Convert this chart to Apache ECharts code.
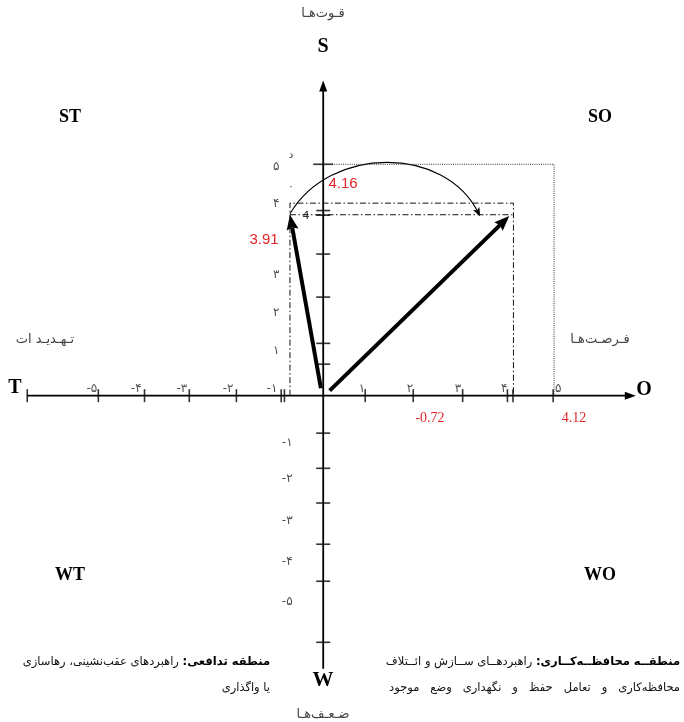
<!DOCTYPE html>
<html><head><meta charset="utf-8">
<script src="https://cdn.jsdelivr.net/npm/echarts@6/dist/echarts.min.js"></script>
<style>html,body{margin:0;padding:0;background:#fff}#c{width:684px;height:722px}</style>
</head><body><div id="c"></div>
<script>
// ---------- data (data units) ----------
const xTicks = [-6.41, -4.87, -3.87, -2.90, -1.88, -0.91, -0.84, 0.91, 1.95, 3.02, 3.99, 4.11, 4.98];
const xTickLabels = ['-۵', '-۴', '-۳', '-۲', '-۱', '۱', '۲', '۳', '۴', '۵'];
const xTickLabelAt = [-5.01, -4.05, -3.06, -2.06, -1.11, 0.84, 1.88, 2.92, 3.92, 5.09];
const yTicks = [0.68, 1.13, 2.13, 3.06, 3.90, 4.00, 5.00, -0.81, -1.57, -2.32, -3.21, -4.01, -5.33];
const yTickLabels = ['۱', '۲', '۳', '۴', '۵', '-۱', '-۲', '-۳', '-۴', '-۵'];
const yTickLabelAt = [0.96, 1.78, 2.60, 4.14, 4.94, -1.03, -1.80, -2.71, -3.59, -4.46];
const axisEnds = { xFrom: -6.41, xTo: 6.77, yFrom: -5.9, yTo: 6.81 };
const scoreX = [-0.72, 4.12];          // weighted scores on the horizontal axis
const scoreY = [3.91, 4.16];           // weighted scores on the vertical axis
const outerCorner = [5, 5];
const vectorTails = [[-0.05, 0.16], [0.14, 0.11]];
const vectorTips = [[-0.72, 3.91], [4.03, 3.88]];
const swingArc = [[-0.72, 3.93], [0.15, 5.41], [2.64, 5.41], [3.40, 3.87]];
const scoreLabels = ['4.16', '3.91', '-0.72', '4.12'];
const quadrants = ['ST', 'SO', 'WT', 'WO'];
const poles = ['S', 'T', 'O', 'W'];

// ---------- layout ----------
const UX = 46.2, UY = 46.3, OX = 323, OY = 395.5;
const X_MIN = -7, X_MAX = 7.8, Y_MIN = -7.05, Y_MAX = 8.55;
const FA = '"DejaVu Sans", sans-serif';
const SERIF = '"Liberation Serif", "Times New Roman", serif';
const RED = '#e3262b';

function arrowRenderer(lw, head, width, notch) {
  return function (params, api) {
    const p1 = api.coord([api.value(0), api.value(1)]);
    const p2 = api.coord([api.value(2), api.value(3)]);
    const dx = p2[0] - p1[0], dy = p2[1] - p1[1], L = Math.hypot(dx, dy);
    const ux = dx / L, uy = dy / L, nx = -uy, ny = ux, w = width / 2;
    const bx = p2[0] - ux * head, by = p2[1] - uy * head;
    return { type: 'group', children: [
      { type: 'line', shape: { x1: p1[0], y1: p1[1], x2: bx + ux * 2, y2: by + uy * 2 },
        style: { stroke: '#000', lineWidth: lw } },
      { type: 'polygon', shape: { points: [[p2[0], p2[1]], [bx + nx * w, by + ny * w],
          [bx + ux * notch, by + uy * notch], [bx - nx * w, by - ny * w]] },
        style: { fill: '#000' } }
    ] };
  };
}

function arcRenderer(params, api) {
  const P = swingArc.map(p => api.coord(p));
  const e = P[3], c = P[2];
  const dx = e[0] - c[0], dy = e[1] - c[1], L = Math.hypot(dx, dy);
  const ux = dx / L, uy = dy / L, nx = -uy, ny = ux;
  const head = 9, w = 3.5;
  const bx = e[0] - ux * head, by = e[1] - uy * head;
  return { type: 'group', children: [
    { type: 'bezierCurve', shape: { x1: P[0][0], y1: P[0][1], cpx1: P[1][0], cpy1: P[1][1],
        cpx2: P[2][0], cpy2: P[2][1], x2: e[0] - ux * 4, y2: e[1] - uy * 4 },
      style: { stroke: '#000', lineWidth: 1.1, fill: null } },
    { type: 'polygon', shape: { points: [[e[0], e[1]], [bx + nx * w, by + ny * w], [bx + ux * 2, by + uy * 2], [bx - nx * w, by - ny * w]] },
      style: { fill: '#000' } }
  ] };
}

function txt(x, y, text, font, color, align) {
  return { type: 'text', x: x, y: y, silent: true,
    style: { text: text, font: font, fill: color || '#000', align: align || 'center', textAlign: align || 'center',
      verticalAlign: 'middle', textVerticalAlign: 'middle' } };
}
function rtxt(x, y, text, rich) {
  return { type: 'text', x: x, y: y, silent: true,
    style: { text: text, rich: rich, align: 'right', textAlign: 'right', verticalAlign: 'middle', textVerticalAlign: 'middle' } };
}

const richBottom = {
  r: { fontFamily: FA, fontSize: 11.5, fill: '#111', color: '#111' },
  b: { fontFamily: FA, fontSize: 11.5, fontWeight: 'bold', fill: '#000', color: '#000' }
};

const chart = echarts.init(document.getElementById('c'), null, { renderer: 'canvas' });
const option = {
  animation: false,
  backgroundColor: '#fff',
  grid: { left: OX + X_MIN * UX, top: OY - Y_MAX * UY, width: (X_MAX - X_MIN) * UX, height: (Y_MAX - Y_MIN) * UY, containLabel: false },
  xAxis: { type: 'value', min: X_MIN, max: X_MAX, show: false },
  yAxis: { type: 'value', min: Y_MIN, max: Y_MAX, show: false },
  series: [
    // outer dotted box up to (5,5)
    { type: 'line', silent: true, showSymbol: false, symbol: 'none',
      data: [[0, outerCorner[1]], [outerCorner[0], outerCorner[1]], [outerCorner[0], 0]],
      lineStyle: { color: '#333', width: 1, type: [1, 1.2] } },
    // dash-dot box at the scores
    { type: 'line', silent: true, showSymbol: false, symbol: 'none',
      data: [[scoreX[0], 0], [scoreX[0], scoreY[1]], [scoreX[1], scoreY[1]], [scoreX[1], 0]],
      lineStyle: { color: '#111', width: 1, type: [6, 2.5, 1.5, 2.5] } },
    { type: 'line', silent: true, showSymbol: false, symbol: 'none',
      data: [[scoreX[0], scoreY[0]], [scoreX[1], scoreY[0]]],
      lineStyle: { color: '#111', width: 1, type: [6, 2.5, 1.5, 2.5] } },
    // axes with arrow heads
    { type: 'custom', silent: true, renderItem: arrowRenderer(1.8, 11, 8, 0),
      encode: { x: [0, 2], y: [1, 3] },
      data: [[axisEnds.xFrom, 0, axisEnds.xTo, 0], [0, axisEnds.yFrom, 0, axisEnds.yTo]] },
    // tick marks
    { type: 'scatter', silent: true, symbol: 'rect', symbolSize: [1.6, 13],
      itemStyle: { color: '#000' }, data: xTicks.map(v => [v, 0]) },
    { type: 'scatter', silent: true, symbol: 'rect',
      symbolSize: v => (Math.abs(v[1] - 5) < 1e-6 ? [20, 1.6] : [14, 1.6]),
      itemStyle: { color: '#000' }, data: yTicks.map(v => [0, v]) },
    // tick labels
    { type: 'scatter', silent: true, symbolSize: 0, itemStyle: { color: 'transparent' },
      label: { show: true, position: 'inside', offset: [0, -7], formatter: p => p.name,
        fontFamily: FA, fontSize: 12, color: '#222' },
      data: xTickLabelAt.map((v, i) => ({ name: xTickLabels[i], value: [v, 0] })) },
    { type: 'scatter', silent: true, symbolSize: 0, itemStyle: { color: 'transparent' },
      label: { show: true, position: 'inside', formatter: p => p.name,
        fontFamily: FA, fontSize: 12, color: '#222' },
      data: yTickLabelAt.map((v, i) => ({ name: yTickLabels[i], value: [0, v],
        label: { offset: [v > 0 ? -47 : -36, 0] } })) },
    // strategic vectors
    { type: 'custom', silent: true, renderItem: arrowRenderer(4, 15, 12, 2),
      encode: { x: [0, 2], y: [1, 3] },
      data: vectorTails.map((t, i) => [t[0], t[1], vectorTips[i][0], vectorTips[i][1]]) },
    // swing arc
    { type: 'custom', silent: true, renderItem: arcRenderer, encode: { x: 0, y: 1 }, data: [[0, 0]] }
  ],
  graphic: [
    txt(323, 14, 'قـوت‌هـا', '13px ' + FA, '#444'),
    txt(323, 47, poles[0], 'bold 20px ' + SERIF),
    txt(15, 388, poles[1], 'bold 20px ' + SERIF),
    txt(644, 390, poles[2], 'bold 20px ' + SERIF),
    txt(323, 681, poles[3], 'bold 21px ' + SERIF),
    txt(70, 117, quadrants[0], 'bold 18px ' + SERIF),
    txt(600, 117, quadrants[1], 'bold 18px ' + SERIF),
    txt(70, 575, quadrants[2], 'bold 18px ' + SERIF),
    txt(600, 575, quadrants[3], 'bold 18px ' + SERIF),
    txt(45, 340, 'تـهـدیـد ات', '13px ' + FA, '#444'),
    txt(600, 340, 'فـرصـت‌هـا', '13px ' + FA, '#444'),
    txt(323, 715, 'ضـعـف‌هـا', '13px ' + FA, '#444'),
    txt(291, 155, 'د', '10px ' + FA, '#333'),
    txt(291, 186, '٠', '10px ' + FA, '#333'),
    txt(306, 216, '4', '11px ' + FA, '#333'),
    txt(343, 184, scoreLabels[0], '15px "Liberation Sans", Arial, sans-serif', RED),
    txt(264, 240, scoreLabels[1], '15px "Liberation Sans", Arial, sans-serif', RED),
    txt(430, 418, scoreLabels[2], '14px ' + SERIF, RED),
    txt(574, 418, scoreLabels[3], '14px ' + SERIF, RED),
    rtxt(270, 662, '{r|راهبردهای عقب‌نشینی، رهاسازی }{b|منطقه تدافعی:\u200F}', richBottom),
    rtxt(270, 688, '{r|یا واگذاری}', richBottom),
    rtxt(680, 662, '{r|راهبردهــای ســازش و ائــتلاف }{b|منطقــه محافظــه‌کــاری:\u200F}', richBottom),
    rtxt(680, 688, '{r|محافظه‌کاری   و   تعامل   حفظ   و   نگهداری   وضع   موجود}', richBottom)
  ]
};
chart.setOption(option);
</script>
</body></html>
